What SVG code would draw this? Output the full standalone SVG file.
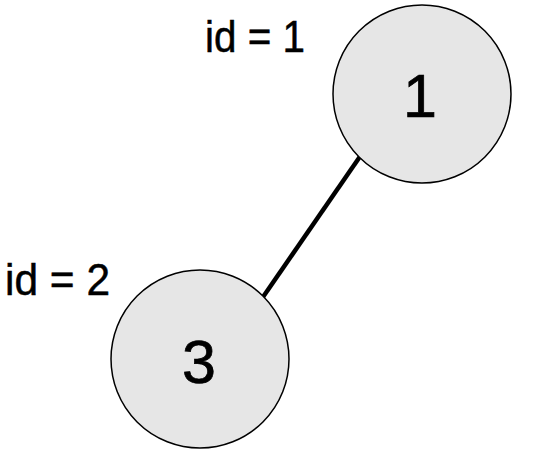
<svg xmlns="http://www.w3.org/2000/svg" width="536" height="473" viewBox="0 0 536 473">
<style>
.node{fill:#e6e6e6;stroke:#000;stroke-width:1.5}
.num{font-family:"Liberation Sans",Arial,sans-serif;font-size:61px;fill:#000;stroke:#000;stroke-width:0.7;text-anchor:middle}
.lbl{font-family:"Liberation Sans",Arial,sans-serif;font-size:44px;fill:#000;stroke:#000;stroke-width:0.5}
.edge{stroke:#000;stroke-width:4.5;fill:none}
</style>
<rect width="536" height="473" fill="#fff"/>
<g id="connectors">
<line class="edge" x1="360" y1="156.5" x2="263" y2="297"/>
</g>
<g id="node-1">
<circle class="node" cx="422" cy="94" r="89"/>
<text class="num" x="420" y="117">1</text>
</g>
<g id="node-3">
<circle class="node" cx="200" cy="359" r="89"/>
<text class="num" x="199" y="383">3</text>
</g>
<g id="label-1">
<text class="lbl" x="205" y="52" textLength="100" lengthAdjust="spacingAndGlyphs">id = 1</text>
</g>
<g id="label-2">
<text class="lbl" x="5" y="295" textLength="105" lengthAdjust="spacingAndGlyphs">id = 2</text>
</g>
</svg>
